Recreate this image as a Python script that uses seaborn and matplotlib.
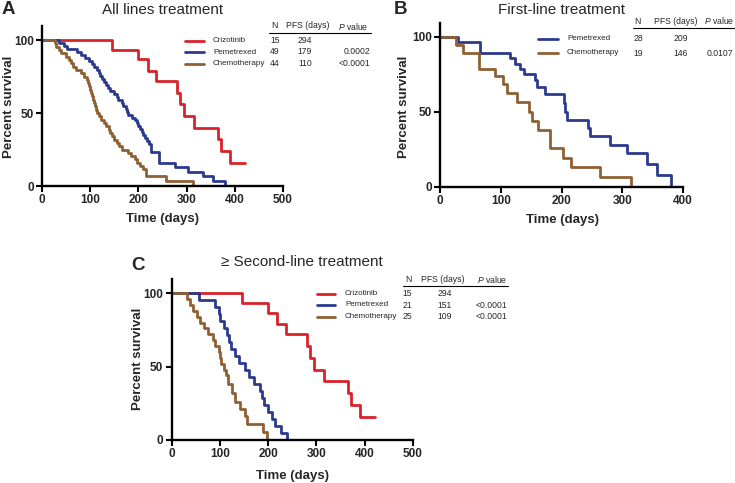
import matplotlib
matplotlib.use("Agg")
import matplotlib.pyplot as plt
import pandas as pd
import seaborn as sns
from matplotlib.lines import Line2D

# ---------------- data ----------------
# Panel A: all lines treatment
a_names = ["Crizotinib", "Pemetrexed", "Chemotherapy"]
a_n = ["15", "49", "44"]
a_pfs = ["294", "179", "110"]
a_p = ["", "0.0002", "<0.0001"]

criz_t = [0, 145, 199, 219, 236, 280, 287, 294, 315, 366, 372, 390, 421]
criz_s = [100, 93.3, 86.7, 79, 72, 64, 56, 48, 40, 32, 24, 16, 16]

a_pem_t = [0, 35, 46, 52, 72, 80, 90, 97, 103, 108, 114, 118, 121, 125, 128, 132, 136, 141,
           150, 155, 158, 165, 169, 174, 177, 179, 187, 193, 197, 200, 203, 207, 210, 213,
           217, 221, 226, 243, 276, 303, 335, 355, 380]
a_pem_s = [100, 98, 95.9, 93.9, 91.8, 89.8, 87.8, 85.7, 83.7, 81.6, 79.6, 77.6, 75.5, 73.5,
           71.4, 69.4, 67.3, 65.3, 63.3, 61.2, 59.2, 57.1, 55.1, 53.1, 51.0, 49.0, 46.9, 44.9,
           42.9, 40.8, 38.8, 36.7, 34.7, 32.6, 30.6, 28.6, 23.5, 16, 13.2, 9.8, 7, 3.6, 0]

a_che_t = [0, 26, 30, 35, 40, 50, 55, 60, 65, 70, 80, 88, 93, 96, 98, 100, 102, 104, 106, 108,
           110, 112, 114, 118, 123, 128, 133, 138, 142, 146, 150, 155, 160, 166, 178, 185, 192,
           198, 204, 210, 215, 257, 313]
a_che_s = [100, 97.7, 95.5, 93.2, 90.9, 88.6, 86.4, 84.1, 81.8, 79.5, 77.3, 75.0, 72.7, 70.5,
           68.2, 65.9, 63.6, 61.4, 59.1, 56.8, 54.5, 52.3, 50.0, 47.7, 45.5, 43.2, 40.9, 38.6,
           36.4, 34.1, 31.8, 29.5, 27.3, 25.0, 22.7, 20.5, 18.2, 15.9, 13.6, 11.4, 6.8, 3.4, 0]

# Panel B: first-line treatment
b_names = ["Pemetrexed", "Chemotherapy"]
b_n = ["28", "19"]
b_pfs = ["209", "146"]
b_p = ["", "0.0107"]

b_pem_t = [0, 30, 66, 116, 124, 132, 138, 157, 159, 173, 204, 206, 209, 244, 247, 280, 308,
           340, 357, 380]
b_pem_s = [100, 96.4, 89.3, 85.7, 82.1, 78.6, 75.0, 71.4, 66.7, 61.9, 55.6, 50.0, 44.6, 39.0,
           33.6, 28.0, 22.4, 15.0, 7.5, 0]
b_che_t = [0, 27, 38, 65, 91, 104, 111, 126, 146, 151, 162, 181, 203, 215, 263, 315]
b_che_s = [100, 94.7, 89.5, 78.9, 73.7, 68.4, 62.5, 56.5, 50.0, 43.5, 37.5, 25.6, 19.2, 12.8,
           6.4, 0]

# Panel C: >= second-line treatment
c_names = ["Crizotinib", "Pemetrexed", "Chemotherapy"]
c_n = ["15", "21", "25"]
c_pfs = ["294", "151", "109"]
c_p = ["", "<0.0001", "<0.0001"]

c_pem_t = [0, 56, 90, 97, 101, 108, 115, 118, 122, 132, 139, 151, 160, 170, 183, 188, 192,
           200, 208, 215, 226, 238]
c_pem_s = [100, 95.2, 90.5, 85.7, 81.0, 76.2, 71.4, 66.7, 61.9, 57.1, 52.4, 47.6, 42.9, 38.1,
           33.3, 28.6, 23.8, 19.0, 14.3, 9.5, 4.8, 0]
c_che_t = [0, 31, 38, 45, 52, 59, 66, 76, 86, 90, 97, 100, 103, 109, 112, 117, 124, 131, 141,
           152, 156, 190, 197]
c_che_s = [100, 96, 92, 88, 84, 80, 76, 72, 68, 64, 60, 56, 52, 48, 44, 38, 32, 26, 21, 16.3,
           10.6, 5.3, 0]

yticks = [0, 50, 100]

# ---------------- style ----------------
RED = "#D8232A"
BLUE = "#2B3A8F"
BROWN = "#8E6033"
palette = {"Crizotinib": RED, "Pemetrexed": BLUE, "Chemotherapy": BROWN}

sns.set_theme(style="ticks")
plt.rcParams["font.family"] = ["Liberation Sans", "DejaVu Sans"]
plt.rcParams["mathtext.fontset"] = "custom"
plt.rcParams["mathtext.rm"] = "Liberation Sans"
plt.rcParams["mathtext.it"] = "Liberation Sans:italic"

W, H = 735, 483
fig = plt.figure(figsize=(W / 100, H / 100), dpi=100)


def rect(x0, x1, ytop, ybot):
    return [x0 / W, 1 - ybot / H, (x1 - x0) / W, (ybot - ytop) / H]


def fx(x):
    return x / W


def fy(y):
    return 1 - y / H


def long_df(series):
    frames = []
    for name, t, s in series:
        frames.append(pd.DataFrame({"Time": t, "Survival": s, "Treatment": name}))
    return pd.concat(frames, ignore_index=True)


def draw_panel(ax, series, xmax, xticks, ytop):
    df = long_df(series)
    sns.lineplot(data=df, x="Time", y="Survival", hue="Treatment", palette=palette,
                 estimator=None, sort=False, drawstyle="steps-post", linewidth=2.0,
                 legend=False, ax=ax)
    ax.set_xlim(0, xmax)
    ax.set_ylim(0, ytop)
    ax.set_xticks(xticks)
    ax.set_yticks(yticks)
    ax.set_xlabel("")
    ax.set_ylabel("")
    for s in ["top", "right"]:
        ax.spines[s].set_visible(False)
    for s in ["left", "bottom"]:
        ax.spines[s].set_linewidth(1.7)
        ax.spines[s].set_color("black")
    ax.tick_params(axis="both", direction="out", length=4.5, width=1.5, color="black",
                   labelsize=8.5, pad=1.5)
    for lab in ax.get_xticklabels() + ax.get_yticklabels():
        lab.set_fontweight("bold")
    ax.set_facecolor("none")


axA = fig.add_axes(rect(42, 283, 25.5, 186))
axB = fig.add_axes(rect(440, 683, 23.5, 186.5))
axC = fig.add_axes(rect(171.7, 413, 279, 440))

draw_panel(axA, [("Crizotinib", criz_t, criz_s), ("Pemetrexed", a_pem_t, a_pem_s),
                 ("Chemotherapy", a_che_t, a_che_s)], 500, [0, 100, 200, 300, 400, 500], 110)
draw_panel(axB, [("Pemetrexed", b_pem_t, b_pem_s), ("Chemotherapy", b_che_t, b_che_s)],
           400, [0, 100, 200, 300, 400], 109)
draw_panel(axC, [("Crizotinib", criz_t, criz_s), ("Pemetrexed", c_pem_t, c_pem_s),
                 ("Chemotherapy", c_che_t, c_che_s)], 500, [0, 100, 200, 300, 400, 500], 109.7)

# ---------------- labels & titles ----------------
lab_kw = dict(fontsize=9.5, fontweight="bold", ha="center", va="center")
for (x, y) in [(9, 107), (404, 107), (138, 359)]:
    fig.text(fx(x), fy(y), "Percent survival", rotation=90, **lab_kw)
for (x, y) in [(163, 219), (562, 220), (292, 476)]:
    fig.text(fx(x), fy(y), "Time (days)", **lab_kw)

fig.text(fx(8), fy(10), "A", fontsize=13.5, fontweight="bold", ha="center", va="center")
fig.text(fx(400), fy(10), "B", fontsize=13.5, fontweight="bold", ha="center", va="center")
fig.text(fx(138), fy(265), "C", fontsize=13.5, fontweight="bold", ha="center", va="center")

fig.text(fx(163), fy(10), "All lines treatment", fontsize=11, ha="center", va="center")
fig.text(fx(561), fy(10), "First-line treatment", fontsize=11, ha="center", va="center")
fig.text(fx(302), fy(262), "\u2265 Second-line treatment", fontsize=11, ha="center",
         va="center")


# ---------------- legend tables ----------------
def table(names, ns, pfs, ps, hdr_y, line_y, rows_y, seg, name_x, n_x, pfs_x, p_x,
          hdr_n_x, hdr_pfs_x, hdr_p_x, ul):
    fs = 6.2
    fsn = 5.8
    fig.text(fx(hdr_n_x), fy(hdr_y), "N", fontsize=fs, ha="center", va="center")
    fig.text(fx(hdr_pfs_x), fy(hdr_y), "PFS (days)", fontsize=fs, ha="center", va="center")
    fig.text(fx(hdr_p_x), fy(hdr_y), "$\\it{P}$ value", fontsize=fs, ha="center",
             va="center")
    fig.add_artist(Line2D([fx(ul[0]), fx(ul[1])], [fy(line_y), fy(line_y)], color="black",
                          linewidth=0.8))
    for name, n, pf, p, y in zip(names, ns, pfs, ps, rows_y):
        fig.add_artist(Line2D([fx(seg[0]), fx(seg[1])], [fy(y), fy(y)],
                              color=palette[name], linewidth=2.0))
        fig.text(fx(name_x), fy(y), name, fontsize=fsn, ha="left", va="center")
        fig.text(fx(n_x), fy(y), n, fontsize=fs, ha="center", va="center")
        fig.text(fx(pfs_x), fy(y), pf, fontsize=fs, ha="center", va="center")
        if p:
            fig.text(fx(p_x), fy(y), p, fontsize=fs, ha="right", va="center")


table(a_names, a_n, a_pfs, a_p, hdr_y=26, line_y=33, rows_y=[40.5, 52, 63.5],
      seg=(185, 204), name_x=213, n_x=275, pfs_x=305, p_x=370,
      hdr_n_x=274, hdr_pfs_x=308, hdr_p_x=353, ul=(269, 371))
table(b_names, b_n, b_pfs, b_p, hdr_y=21, line_y=28, rows_y=[38.5, 53],
      seg=(538, 558), name_x=567, n_x=638, pfs_x=681, p_x=733,
      hdr_n_x=637, hdr_pfs_x=676, hdr_p_x=719, ul=(633, 735))
table(c_names, c_n, c_pfs, c_p, hdr_y=279.5, line_y=286, rows_y=[293.5, 305, 316.5],
      seg=(317, 335), name_x=345, n_x=407, pfs_x=445, p_x=507,
      hdr_n_x=408, hdr_pfs_x=443, hdr_p_x=492, ul=(403, 508))

fig.savefig("out.png", dpi=100, facecolor="white")
